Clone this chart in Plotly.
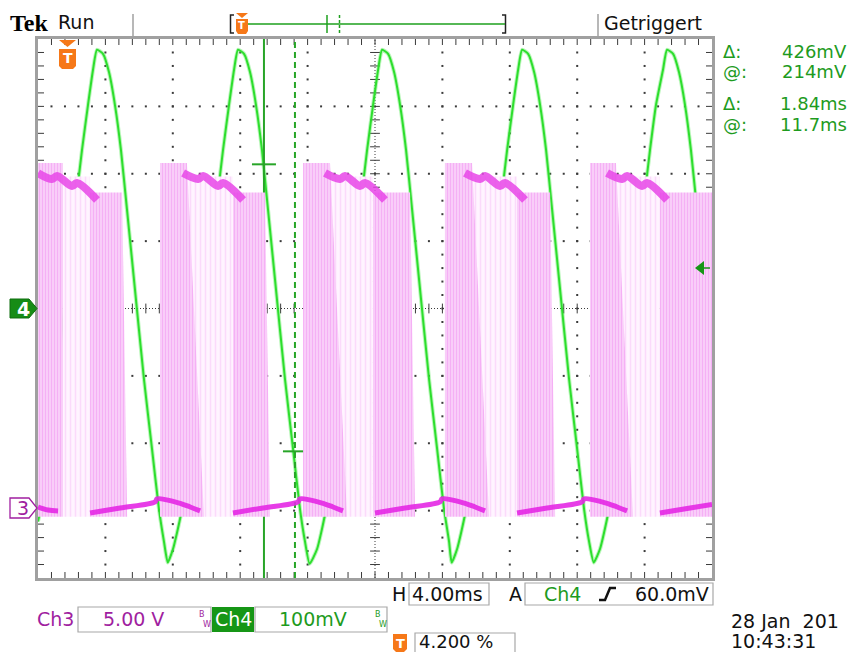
import plotly.graph_objects as go

W, H = 854, 652
X_L, X_R, Y_T, Y_B = 38, 712, 39, 578


def px(x):
    return x / W


def py(y):
    return 1 - y / H


# ---------------- scope settings ----------------
time_div_ms = 4.0
ch4_div_mv = 100.0
ch3_div_v = 5.0
ch3_ground_div = -3
trigger_pos_ms = 1.68
trigger_level_mv = 60.0
cursor_t = [13.41, 15.25]
cursor_mv = [214.0, -212.0]

# ---------------- Ch4 (green) trace: time ms, level mV ----------------
ch4_t = [0.0, 0.117, 0.651, 1.126, 1.72, 2.194, 2.61, 2.966, 3.263, 3.50,
         3.856, 4.212, 4.568, 4.924, 5.28, 5.696, 6.289, 6.764, 7.18, 7.476, 7.70,
         8.012, 8.487, 9.021, 9.496, 10.09, 10.564, 10.98, 11.336, 11.633, 11.87,
         12.226, 12.582, 12.938, 13.294, 13.65, 14.066, 14.659, 15.134, 15.55, 15.846, 16.12,
         16.562, 17.037, 17.571, 18.046, 18.64, 19.114, 19.53, 19.886, 20.183, 20.42,
         20.776, 21.132, 21.488, 21.844, 22.2, 22.616, 23.209, 23.684, 24.1, 24.396, 24.55,
         24.872, 25.347, 25.881, 26.356, 26.95, 27.424, 27.84, 28.196, 28.493, 28.73,
         29.086, 29.442, 29.798, 30.154, 30.51, 30.926, 31.519, 31.994, 32.41, 32.706, 32.98,
         33.352, 33.827, 34.361, 34.836, 35.43, 35.904, 36.32, 36.676, 37.09, 37.33,
         37.69, 38.04, 38.40, 38.75, 39.11, 39.35, 39.53, 40.0]
ch4_mv = [-316, -302, -200, -105, 43, 147, 235, 302, 354, 384,
          378, 351, 302, 235, 147, 43, -105, -208, -298, -346, -377,
          -357, -305, -200, -105, 43, 147, 235, 302, 354, 384,
          378, 351, 302, 235, 147, 43, -105, -208, -298, -346, -379,
          -357, -305, -200, -105, 43, 147, 235, 302, 354, 384,
          378, 351, 302, 235, 147, 43, -105, -208, -298, -346, -377,
          -357, -305, -200, -105, 43, 147, 235, 302, 354, 384,
          378, 351, 302, 235, 147, 43, -105, -208, -298, -346, -377,
          -357, -305, -200, -105, 43, 147, 235, 302, 354, 384,
          378, 351, 302, 235, 147, 95, 43, -40]

# ---------------- Ch3 (magenta) ----------------
# sparse (mostly high level) stretches: ms, V
light_t0 = [1.48, 8.84, 17.33, 25.76, 34.30]
light_t1 = [3.09, 11.57, 19.88, 28.43, 36.91]
light_top_v = [24.8, 24.8, 24.8, 24.8, 24.8]
# dense switching bursts: start, end at top, end at bottom (ms), top level (V)
burst_t0 = [0.0, 3.09, 7.24, 11.57, 15.73, 19.88, 24.15, 28.43, 32.76, 36.91]
burst_t1_top = [1.48, 4.99, 8.84, 13.47, 17.33, 22.08, 25.76, 30.39, 34.30, 40.0]
burst_t1_bot = [1.48, 5.29, 9.85, 13.77, 18.34, 22.38, 26.77, 30.69, 35.31, 40.0]
burst_top_v = [25.8, 23.6, 25.8, 23.6, 25.8, 23.6, 25.8, 23.6, 25.8, 23.6]
burst_floor_v = -0.45

# bright upper level segments (time ms / volts)
top_seg_t = [[0.0, 0.83, 1.13, 2.02, 2.31, 3.50],
             [8.61, 9.50, 9.80, 10.69, 10.98, 12.17],
             [17.03, 17.92, 18.22, 19.11, 19.40, 20.59],
             [25.34, 26.23, 26.53, 27.42, 27.71, 28.90],
             [33.77, 34.66, 34.96, 35.85, 36.14, 37.33]]
top_seg_v = [25.05, 24.61, 24.83, 24.09, 24.31, 23.05]

# bright lower level segments
bot_seg_t = [[0.0, 0.59, 1.19],
             [3.09, 4.87, 6.95, 7.07, 8.13, 9.03, 9.62],
             [11.57, 13.35, 15.43, 15.55, 16.61, 17.51, 18.10],
             [20.00, 21.78, 23.86, 23.98, 25.04, 25.94, 26.53],
             [28.43, 30.21, 32.29, 32.41, 33.47, 34.37, 34.96],
             [36.91, 38.70, 40.0]]
bot_seg_v = [[0.27, 0.05, -0.02],
             [-0.17, 0.2, 0.65, 0.87, 0.65, 0.27, -0.02],
             [-0.17, 0.2, 0.65, 0.87, 0.65, 0.27, -0.02],
             [-0.17, 0.2, 0.65, 0.87, 0.65, 0.27, -0.02],
             [-0.17, 0.2, 0.65, 0.87, 0.65, 0.27, -0.02],
             [-0.17, 0.2, 0.45]]

fig = go.Figure()

for t0, t1, top in zip(light_t0, light_t1, light_top_v):
    fig.add_trace(go.Scatter(
        x=[t0, t1, t1, t0, t0], y=[burst_floor_v, burst_floor_v, top, top, burst_floor_v],
        yaxis='y2', mode='lines', line=dict(width=0), fill='toself',
        fillcolor='rgb(254,238,254)',
        fillpattern=dict(shape='|', fillmode='replace', fgcolor='rgb(251,218,251)',
                         bgcolor='rgb(255,244,255)', size=5, solidity=0.3),
        hoverinfo='skip', showlegend=False))

for t0, t1t, t1b, top in zip(burst_t0, burst_t1_top, burst_t1_bot, burst_top_v):
    fig.add_trace(go.Scatter(
        x=[t0, t1b, t1t, t0, t0], y=[burst_floor_v, burst_floor_v, top, top, burst_floor_v],
        yaxis='y2', mode='lines', line=dict(width=0), fill='toself',
        fillcolor='rgb(250,200,250)',
        fillpattern=dict(shape='|', fillmode='replace', fgcolor='rgb(245,176,245)',
                         bgcolor='rgb(250,208,250)', size=3, solidity=0.4),
        hoverinfo='skip', showlegend=False))

for ts in top_seg_t:
    fig.add_trace(go.Scatter(x=ts, y=top_seg_v[:len(ts)], yaxis='y2', mode='lines',
                             line=dict(color='rgba(232,70,232,0.85)', width=8, shape='spline'),
                             hoverinfo='skip', showlegend=False))
for ts, vs in zip(bot_seg_t, bot_seg_v):
    fig.add_trace(go.Scatter(x=ts, y=vs, yaxis='y2', mode='lines',
                             line=dict(color='rgba(228,40,228,0.9)', width=5, shape='spline'),
                             hoverinfo='skip', showlegend=False))

# ---------------- graticule ----------------
t_max = 10 * time_div_ms
v_max = 4 * ch4_div_mv
st = time_div_ms / 5
sv = ch4_div_mv / 5
dots_x, dots_y = [], []
for k in range(1, 10):
    if k == 5:
        continue
    for j in range(1, 40):
        dots_x.append(k * time_div_ms)
        dots_y.append(-v_max + j * sv)
for k in range(-3, 4):
    if k == 0:
        continue
    for j in range(1, 50):
        dots_x.append(j * st)
        dots_y.append(k * ch4_div_mv)
fig.add_trace(go.Scatter(x=dots_x, y=dots_y, mode='markers',
                         marker=dict(symbol='square', size=2, color='#3a3a3a', line=dict(width=0)),
                         hoverinfo='skip', showlegend=False))
cx = [t_max / 2] * 39
cy = [-v_max + j * sv for j in range(1, 40)]
fig.add_trace(go.Scatter(x=cx, y=cy, mode='markers',
                         marker=dict(symbol='line-ew', size=7, line=dict(width=1, color='#3a3a3a')),
                         hoverinfo='skip', showlegend=False, cliponaxis=False))
hx = [j * st for j in range(1, 50)]
fig.add_trace(go.Scatter(x=hx, y=[0] * len(hx), mode='markers',
                         marker=dict(symbol='line-ns', size=7, line=dict(width=1, color='#3a3a3a')),
                         hoverinfo='skip', showlegend=False, cliponaxis=False))
pxt = t_max / (X_R - X_L)
pxv = 2 * v_max / (Y_B - Y_T)
ex = [j * st for j in range(1, 50)]
fig.add_trace(go.Scatter(x=ex + ex, y=[v_max - 2.5 * pxv] * len(ex) + [-v_max + 2.5 * pxv] * len(ex),
                         mode='markers',
                         marker=dict(symbol='line-ns', size=5, line=dict(width=1, color='#3a3a3a')),
                         hoverinfo='skip', showlegend=False, cliponaxis=False))
ey = [-v_max + j * sv for j in range(1, 40)]
fig.add_trace(go.Scatter(x=[2.5 * pxt] * len(ey) + [t_max - 2.5 * pxt] * len(ey), y=ey + ey,
                         mode='markers',
                         marker=dict(symbol='line-ew', size=5, line=dict(width=1, color='#3a3a3a')),
                         hoverinfo='skip', showlegend=False, cliponaxis=False))

# ---------------- Ch4 trace ----------------
fig.add_trace(go.Scatter(x=ch4_t, y=ch4_mv, mode='lines',
                         line=dict(color='rgba(60,230,60,0.35)', width=4, shape='spline', smoothing=0.5),
                         hoverinfo='skip', showlegend=False))
fig.add_trace(go.Scatter(x=ch4_t, y=ch4_mv, mode='lines',
                         line=dict(color='rgb(45,222,45)', width=2, shape='spline', smoothing=0.5),
                         hoverinfo='skip', showlegend=False))

# ---------------- cursors ----------------
cur_col = 'rgb(40,165,40)'
fig.add_trace(go.Scatter(x=[cursor_t[0], cursor_t[0]], y=[-v_max, v_max], mode='lines',
                         line=dict(color=cur_col, width=2), hoverinfo='skip', showlegend=False))
fig.add_trace(go.Scatter(x=[cursor_t[1], cursor_t[1]], y=[-v_max, v_max], mode='lines',
                         line=dict(color=cur_col, width=2, dash='6px,4px'), hoverinfo='skip', showlegend=False))
half = 12 * pxt
for ct, cv in zip(cursor_t, cursor_mv):
    fig.add_trace(go.Scatter(x=[ct - half, ct + half], y=[cv, cv], mode='lines',
                             line=dict(color=cur_col, width=2), hoverinfo='skip', showlegend=False))

shapes = []
shapes.append(dict(type='line', xref='x', yref='y', x0=t_max / 2, x1=t_max / 2, y0=-v_max, y1=v_max,
                   line=dict(color='#3a3a3a', width=1, dash='1px,2px'), layer='below'))
shapes.append(dict(type='line', xref='x', yref='y', x0=0, x1=t_max, y0=0, y1=0,
                   line=dict(color='#3a3a3a', width=1, dash='1px,2px'), layer='below'))
shapes.append(dict(type='rect', xref='paper', yref='paper', x0=px(X_L - 1.5), x1=px(X_R + 1.5),
                   y0=py(Y_B + 1.5), y1=py(Y_T - 1.5), line=dict(color='#a0a0a0', width=3)))


def path(pts, close=True):
    s = 'M ' + ' L '.join(f'{px(a):.5f},{py(b):.5f}' for a, b in pts)
    return s + (' Z' if close else '')


shapes.append(dict(type='path', xref='paper', yref='paper',
                   path=path([(10, 299), (29, 299), (37, 308.5), (29, 318), (10, 318)]),
                   fillcolor='rgb(22,140,22)', line=dict(color='rgb(15,110,15)', width=1)))
shapes.append(dict(type='path', xref='paper', yref='paper',
                   path=path([(10, 498), (29, 498), (37, 508), (29, 518), (10, 518)]),
                   fillcolor='white', line=dict(color='rgb(160,30,160)', width=1.3)))
shapes.append(dict(type='path', xref='paper', yref='paper',
                   path=path([(695, 268), (704, 261), (704, 275)]),
                   fillcolor='rgb(22,150,22)', line=dict(width=0)))
shapes.append(dict(type='line', xref='paper', yref='paper', x0=px(703), x1=px(710), y0=py(268), y1=py(268),
                   line=dict(color='rgb(22,150,22)', width=1.5)))
orange = 'rgb(246,120,24)'
shapes.append(dict(type='path', xref='paper', yref='paper',
                   path=path([(59, 40), (76, 40), (67.5, 47)]), fillcolor=orange, line=dict(width=0)))
shapes.append(dict(type='path', xref='paper', yref='paper',
                   path=path([(59, 49), (76, 49), (76, 66), (73, 69), (62, 69), (59, 66)]),
                   fillcolor=orange, line=dict(width=0)))
shapes.append(dict(type='line', xref='paper', yref='paper', x0=px(133), x1=px(133), y0=py(14), y1=py(37),
                   line=dict(color='#a0a0a0', width=1.5)))
shapes.append(dict(type='line', xref='paper', yref='paper', x0=px(598), x1=px(598), y0=py(14), y1=py(37),
                   line=dict(color='#a0a0a0', width=1.5)))
shapes.append(dict(type='path', xref='paper', yref='paper',
                   path=path([(234, 15), (230.5, 15), (230.5, 33), (234, 33)], close=False),
                   line=dict(color='#222', width=1.5)))
shapes.append(dict(type='path', xref='paper', yref='paper',
                   path=path([(502, 15), (505.5, 15), (505.5, 33), (502, 33)], close=False),
                   line=dict(color='#222', width=1.5)))
shapes.append(dict(type='line', xref='paper', yref='paper', x0=px(246), x1=px(505), y0=py(24), y1=py(24),
                   line=dict(color='rgb(30,160,30)', width=1.5)))
shapes.append(dict(type='line', xref='paper', yref='paper', x0=px(327), x1=px(327), y0=py(15), y1=py(33),
                   line=dict(color='rgb(30,160,30)', width=1.5)))
shapes.append(dict(type='line', xref='paper', yref='paper', x0=px(339.5), x1=px(339.5), y0=py(15), y1=py(33),
                   line=dict(color='rgb(30,160,30)', width=1.5, dash='3px,2px')))
shapes.append(dict(type='path', xref='paper', yref='paper',
                   path=path([(236, 13), (248, 13), (242, 18)]), fillcolor=orange, line=dict(width=0)))
shapes.append(dict(type='path', xref='paper', yref='paper',
                   path=path([(236, 19), (248, 19), (248, 31), (246, 34), (238, 34), (236, 31)]),
                   fillcolor=orange, line=dict(width=0)))
box_col = '#a8a8a8'
for x0, y0, x1, y1 in [(409, 583, 489, 605), (525, 583, 713, 605), (78, 607, 211, 632),
                       (255, 607, 387, 632), (415, 633, 515, 653)]:
    shapes.append(dict(type='rect', xref='paper', yref='paper', x0=px(x0), x1=px(x1), y0=py(y1), y1=py(y0),
                       line=dict(color=box_col, width=1.2)))
shapes.append(dict(type='rect', xref='paper', yref='paper', x0=px(212), x1=px(254), y0=py(632), y1=py(607),
                   fillcolor='rgb(22,150,22)', line=dict(width=0)))
shapes.append(dict(type='path', xref='paper', yref='paper',
                   path=path([(599, 600), (605, 600), (610, 588), (616, 588)], close=False),
                   line=dict(color='#111', width=2.5)))
shapes.append(dict(type='path', xref='paper', yref='paper',
                   path=path([(393, 634), (407, 634), (407, 649), (404, 652), (396, 652), (393, 649)]),
                   fillcolor=orange, line=dict(width=0)))

ann = []
F = 'DejaVu Sans'


def txt(x, y, s, size=19, color='#111', anchor='left', family=F, bold=False):
    if bold:
        s = f'<b>{s}</b>'
    ann.append(dict(x=px(x), y=py(y), xref='paper', yref='paper', text=s, showarrow=False,
                    xanchor=anchor, yanchor='middle', font=dict(family=family, size=size, color=color)))


green_t = 'rgb(30,155,30)'
purple = 'rgb(160,30,160)'
txt(8, 23, 'Tek', 24, '#000', family='Liberation Serif', bold=True)
txt(56, 22, 'Run', 19)
txt(602, 23, 'Getriggert', 19)
txt(721, 51.5, 'Δ:', 18, green_t)
txt(849, 51.5, '426mV', 18, green_t, anchor='right')
txt(721, 71.5, '@:', 18, green_t)
txt(849, 71.5, '214mV', 18, green_t, anchor='right')
txt(721, 104, 'Δ:', 18, green_t)
txt(849, 104, '1.84ms', 18, green_t, anchor='right')
txt(721, 124, '@:', 18, green_t)
txt(849, 124, '11.7ms', 18, green_t, anchor='right')
txt(23.5, 309, '4', 19, 'white', anchor='center', bold=True)
txt(22.5, 508, '3', 19, purple, anchor='center')
txt(67.5, 58, 'T', 14, 'white', anchor='center', bold=True)
txt(242, 26, 'T', 10, 'white', anchor='center', bold=True)
txt(400, 643, 'T', 13, 'white', anchor='center', bold=True)
txt(390, 594, 'H', 19)
txt(410, 594, '4.00ms', 19)
txt(507, 594, 'A', 19)
txt(542, 594, 'Ch4', 19, green_t)
txt(711, 594, '60.0mV', 19, anchor='right')
txt(35, 619, 'Ch3', 19, purple)
txt(101, 619, '5.00 V', 19, purple)
txt(197, 614, 'B', 8, purple)
txt(201, 624, 'W', 8, purple)
txt(213, 619, 'Ch4', 19, 'white')
txt(277, 619, '100mV', 19, green_t)
txt(373, 614, 'B', 8, green_t)
txt(377, 624, 'W', 8, green_t)
txt(417, 641.5, '4.200 %', 18)
txt(729, 621, '28 Jan  201', 19)
txt(729, 641, '10:43:31', 19)

fig.update_layout(
    width=W, height=H, margin=dict(l=0, r=0, t=0, b=0),
    paper_bgcolor='white', plot_bgcolor='white',
    xaxis=dict(domain=[px(X_L), px(X_R)], range=[0, t_max], showgrid=False, zeroline=False,
               showticklabels=False, ticks='', fixedrange=True),
    yaxis=dict(domain=[py(Y_B), py(Y_T)], range=[-v_max, v_max], showgrid=False, zeroline=False,
               showticklabels=False, ticks='', fixedrange=True),
    yaxis2=dict(overlaying='y', range=[(-4 - ch3_ground_div) * ch3_div_v, (4 - ch3_ground_div) * ch3_div_v],
                showgrid=False, zeroline=False, showticklabels=False, ticks='', visible=False),
    shapes=shapes, annotations=ann, showlegend=False,
)
fig.write_html('out.html', config={'displayModeBar': False},
               post_script="document.body.style.margin='0px';document.body.style.overflow='hidden';")
